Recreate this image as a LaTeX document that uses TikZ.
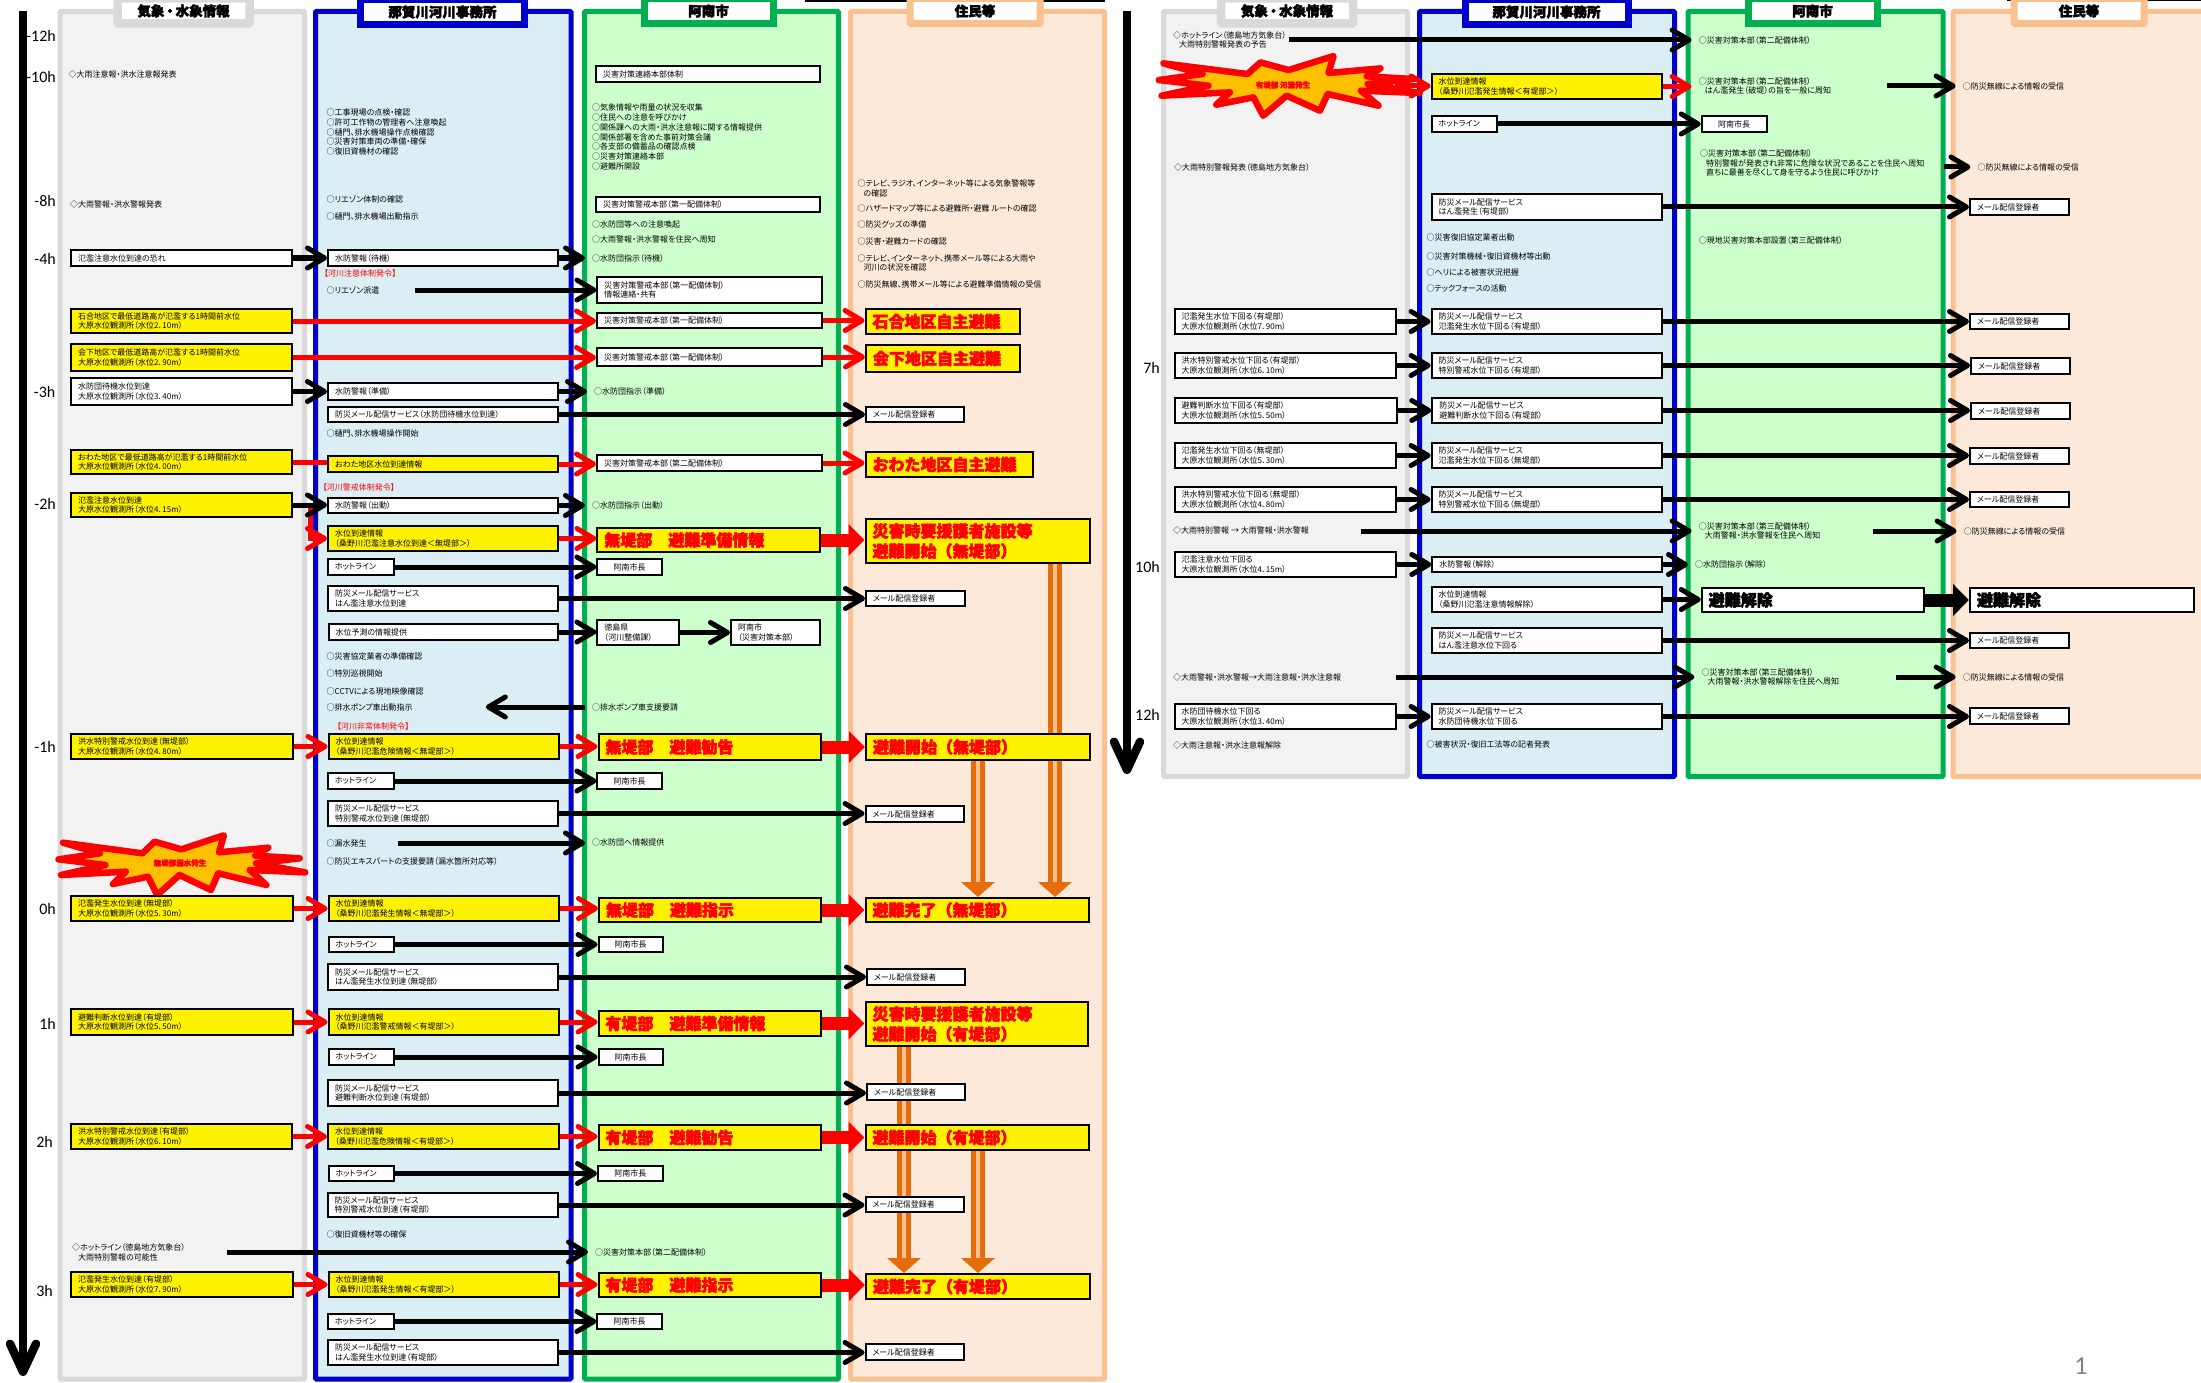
\documentclass[tikz,border=0pt]{standalone}
\usepackage{fontspec}
\setmainfont{Noto Sans CJK JP}[RawFeature=+palt,BoldFeatures={FakeBold=3}]
\newfontfamily\bigfont{Noto Sans CJK JP}[BoldFeatures={FakeBold=3}]
\newfontfamily\timefont{Carlito}
\usetikzlibrary{calc}
\usetikzlibrary{positioning}
\usetikzlibrary{arrows.meta}
\usetikzlibrary{backgrounds}

\definecolor{graybd}{HTML}{D9D9D9}
\definecolor{grayfl}{HTML}{F2F2F2}
\definecolor{bluebd}{HTML}{0000CC}
\definecolor{bluefl}{HTML}{DBEEF4}
\definecolor{greenbd}{HTML}{00B050}
\definecolor{greenfl}{HTML}{CCFFCC}
\definecolor{orangebd}{HTML}{FAC090}
\definecolor{orangefl}{HTML}{FDE9D9}
\definecolor{flowbd}{HTML}{E46C0A}
\definecolor{burstfl}{HTML}{FFC000}

\tikzset{
  small/.style = {font=\fontsize{8}{9.7}\selectfont},
  wbox/.style = {small,draw=black,fill=white,line width=2pt,inner xsep=7pt,inner ysep=0pt,align=left},
  ybox/.style = {wbox,fill=yellow},
  cbox/.style = {wbox,align=center},
  bigbox/.style = {ybox,text=red,font=\bigfont\bfseries\fontsize{16}{20}\selectfont},
  bigwbox/.style = {wbox,font=\bigfont\bfseries\fontsize{16}{20}\selectfont},
  txt/.style = {small,anchor=west,inner xsep=7pt,inner ysep=0pt,align=left},
  redtxt/.style = {txt,text=red},
  timelabel/.style = {anchor=east,inner sep=0pt,font=\timefont\fontsize{16}{18}\selectfont},
  burst/.style = {draw=red,fill=burstfl,line width=6.5pt,line join=round},
  bursttxt/.style = {text=red,inner sep=0pt,font=\bfseries\fontsize{7.5}{9}\selectfont},
  head/.style = {inner sep=0pt,font=\bfseries\fontsize{13.5}{15}\selectfont},
  karrow/.style = {draw=black,line width=5pt,-{Straight Barb[round,length=17pt,width=20pt]}},
  rarrow/.style = {draw=red,line width=5pt,-{Straight Barb[round,length=17pt,width=20pt]}},
  rline/.style = {draw=red,line width=5pt},
  rfat/.style = {draw=red,line width=13pt,-{Triangle[length=16pt,width=31pt]}},
  kfat/.style = {draw=black,line width=13pt,-{Triangle[length=16pt,width=31pt]}},
  flow/.style = {draw=flowbd,double=orangebd,double distance=4pt,line width=5pt,-{Triangle[length=15pt,width=33pt]}},
  timearrow/.style = {draw=black,line width=8.5pt,-{Straight Barb[round,length=28pt,width=26pt]}},
}

% box given by its outer corners
\newcommand{\bnode}[7][wbox]{%
  \pgfmathsetmacro{\bw}{#5-#3-2}\pgfmathsetmacro{\bt}{#5-#3-16}%
  \pgfmathsetmacro{\bh}{#6-#4-2}\pgfmathsetmacro{\bx}{(#3+#5)/2}\pgfmathsetmacro{\by}{(#4+#6)/2}%
  \node[#1,minimum width=\bw pt,minimum height=\bh pt,text width=\bt pt] (#2) at (\bx,\by) {#7};}
% free text, x is where the text starts
\newcommand{\tnode}[5][txt]{%
  \pgfmathsetmacro{\bx}{#3-7}%
  \node[#1] (#2) at (\bx,#4) {#5};}
\newcommand{\ind}{\hspace*{6pt}}
\newcommand{\burstpts}{(170,458) -- (385,490) -- (418,455) -- (490,478) -- (605,436) -- (592,487) -- (725,473) -- (690,497) -- (810,505) -- (692,520) -- (825,547) -- (675,540) -- (720,585) -- (590,550) -- (570,600) -- (485,555) -- (425,615) -- (400,560) -- (305,582) -- (340,545) -- (165,555) -- (285,525) -- (158,508) -- (270,490) -- cycle}

\begin{document}
\begin{tikzpicture}[x=1pt,y=-1pt]
\useasboundingbox (0,0) rectangle (2201,1383);

% columns
\begin{scope}[on background layer]
\fill[white] (0,0) rectangle (2201,1383);
\draw[draw=graybd,fill=grayfl,line width=5pt,rounded corners=1pt] (60,11.5) rectangle (304.5,1379);
\draw[draw=bluebd,fill=bluefl,line width=5pt,rounded corners=1pt] (315.5,11.5) rectangle (571,1379);
\draw[draw=greenbd,fill=greenfl,line width=5pt,rounded corners=1pt] (584.5,11.5) rectangle (838.5,1379);
\draw[draw=orangebd,fill=orangefl,line width=5pt,rounded corners=1pt] (850.5,11.5) rectangle (1104.5,1379);
\draw[draw=graybd,fill=grayfl,line width=5pt,rounded corners=1pt] (1163.5,11.5) rectangle (1407.5,776.5);
\draw[draw=bluebd,fill=bluefl,line width=5pt,rounded corners=1pt] (1419.5,11.5) rectangle (1674.5,776.5);
\draw[draw=greenbd,fill=greenfl,line width=5pt,rounded corners=1pt] (1688,11.5) rectangle (1943,776.5);
\draw[draw=orangebd,fill=orangefl,line width=5pt,rounded corners=1pt] (1953,11.5) rectangle (2215,776.5);
\draw[burst,shift={(0,690)},xscale=0.37,yscale=1/3] \burstpts;
\draw[burst,shift={(1097,-89.3)},xscale=0.391,yscale=1/3] \burstpts;
\end{scope}

% top boxes
\node[draw=black,fill=white,line width=2pt,minimum width=298pt,minimum height=12pt] (top1) at (955,-5) {};
\node[draw=black,fill=white,line width=2pt,minimum width=202pt,minimum height=12pt] (top2) at (2109,-6) {};

% headers
\node[head,draw=graybd,fill=white,line width=8.5pt,minimum width=132pt,minimum height=25pt,rounded corners=1pt] (h1) at (183.5,11) {気象\,・\,水象情報};
\node[head,draw=bluebd,fill=white,line width=7pt,minimum width=164pt,minimum height=25pt] (h2) at (442.5,12) {那賀川河川事務所};
\node[head,draw=greenbd,fill=white,line width=7pt,minimum width=129pt,minimum height=25pt] (h3) at (708.5,11) {阿南市};
\node[head,draw=orangebd,fill=white,line width=7pt,minimum width=130pt,minimum height=25pt,rounded corners=1pt] (h4) at (975,11) {住民等};
\node[head,draw=graybd,fill=white,line width=8.5pt,minimum width=132pt,minimum height=25pt,rounded corners=1pt] (h5) at (1287,11) {気象\,・\,水象情報};
\node[head,draw=bluebd,fill=white,line width=7pt,minimum width=163pt,minimum height=25pt] (h6) at (1546.5,12) {那賀川河川事務所};
\node[head,draw=greenbd,fill=white,line width=7pt,minimum width=129pt,minimum height=25pt] (h7) at (1812.5,11) {阿南市};
\node[head,draw=orangebd,fill=white,line width=7pt,minimum width=130pt,minimum height=25pt,rounded corners=1pt] (h8) at (2079,11) {住民等};

% time axis
\coordinate (ta) at (23,11);
\coordinate (tb) at (23,1376);
\coordinate (tc) at (1127,11);
\coordinate (td) at (1127,774);
\node[timelabel] (t1) at (56,36) {-12h};
\node[timelabel] (t2) at (56,77) {-10h};
\node[timelabel] (t3) at (56,201) {-8h};
\node[timelabel] (t4) at (56,259) {-4h};
\node[timelabel] (t5) at (55.5,392) {-3h};
\node[timelabel] (t6) at (56,504) {-2h};
\node[timelabel] (t7) at (56,747) {-1h};
\node[timelabel] (t8) at (56,909) {0h};
\node[timelabel] (t9) at (56,1024) {1h};
\node[timelabel] (t10) at (53,1142) {2h};
\node[timelabel] (t11) at (53,1291) {3h};
\node[timelabel] (t12) at (1160,368) {7h};
\node[timelabel] (t13) at (1160,567) {10h};
\node[timelabel] (t14) at (1160,715) {12h};

% left sheet, weather column
\tnode{a1}{68.5}{74}{◇大雨注意報・洪水注意報発表}
\tnode{a2}{70}{204}{◇大雨警報・洪水警報発表}
\bnode{a3}{70}{249}{293}{267}{氾濫注意水位到達の恐れ}
\bnode[ybox]{a4}{70}{308}{293}{334}{石合地区で最低道路高が氾濫する1時間前水位\\大原水位観測所（水位2．10m）}
\bnode[ybox]{a5}{70}{343}{293}{372}{会下地区で最低道路高が氾濫する1時間前水位\\大原水位観測所（水位2．90m）}
\bnode{a6}{70}{377}{293}{406}{水防団待機水位到達\\大原水位観測所（水位3．40m）}
\bnode[ybox]{a7}{70}{449}{293}{475}{おわた地区で最低道路高が氾濫する1時間前水位\\大原水位観測所（水位4．00m）}
\bnode[ybox]{a8}{70}{492}{293}{518}{氾濫注意水位到達\\大原水位観測所（水位4．15m）}
\bnode[ybox]{a9}{70}{733}{294}{760}{洪水特別警戒水位到達（無堤部）\\大原水位観測所（水位4．80m）}
\node[bursttxt] (a10) at (180,863) {無堤部漏水発生};
\bnode[ybox]{a11}{70}{895}{294}{922}{氾濫発生水位到達（無堤部）\\大原水位観測所（水位5．30m）}
\bnode[ybox]{a12}{70}{1008}{294}{1036}{避難判断水位到達（有堤部）\\大原水位観測所（水位5．50m）}
\bnode[ybox]{a13}{70}{1123}{293}{1150}{洪水特別警戒水位到達（有堤部）\\大原水位観測所（水位6．10m）}
\tnode{a14}{72}{1252}{◇ホットライン（徳島地方気象台）\\\ind 大雨特別警報の可能性}
\bnode[ybox]{a15}{70}{1271}{294}{1298}{氾濫発生水位到達（有堤部）\\大原水位観測所（水位7．90m）}

% left sheet, river office column
\tnode{b1}{326.5}{132}{○工事現場の点検・確認\\○許可工作物の管理者へ注意喚起\\○樋門、排水機場操作点検確認\\○災害対策車両の準備・確保\\○復旧資機材の確認}
\tnode{b2}{326.5}{199}{○リエゾン体制の確認}
\tnode{b3}{326.5}{216}{○樋門、排水機場出動指示}
\bnode{b4}{327}{249}{559}{267}{水防警報（待機）}
\tnode[redtxt]{b5}{324}{273}{【河川注意体制発令】}
\tnode{b6}{326.5}{290}{○リエゾン派遣}
\bnode{b7}{327}{382}{559}{401}{水防警報（準備）}
\bnode{b8}{327}{406}{559}{423}{防災メール配信サービス（水防団待機水位到達）}
\tnode{b9}{326.5}{433}{○樋門、排水機場操作開始}
\bnode[ybox]{b10}{327}{455}{559}{473}{おわた地区水位到達情報}
\tnode[redtxt]{b11}{322.7}{487}{【河川警戒体制発令】}
\bnode{b12}{327}{497}{559}{514}{水防警報（出動）}
\bnode[ybox]{b13}{327}{525}{559}{552}{水位到達情報\\（桑野川氾濫注意水位到達＜無堤部＞）}
\bnode{b14}{327}{558}{394.5}{576}{ホットライン}
\bnode{b15}{327}{585}{559}{612}{防災メール配信サービス\\はん濫注意水位到達}
\bnode{b16}{327.5}{623}{559}{641}{水位予測の情報提供}
\tnode{b17}{326.5}{656}{○災害協定業者の準備確認}
\tnode{b18}{326.5}{673}{○特別巡視開始}
\tnode{b19}{326.5}{691}{○CCTVによる現地映像確認}
\tnode{b20}{326.5}{707}{○排水ポンプ車出動指示}
\tnode[redtxt]{b21}{337}{726}{【河川非常体制発令】}
\bnode[ybox]{b22}{327.5}{733}{560}{760}{水位到達情報\\（桑野川氾濫危険情報＜無堤部＞）}
\bnode{b23}{327}{772}{394.5}{790}{ホットライン}
\bnode{b24}{327}{800}{559}{827}{防災メール配信サービス\\特別警戒水位到達（無堤部）}
\tnode{b25}{326.5}{843}{○漏水発生}
\tnode{b26}{326.5}{861}{○防災エキスパートの支援要請（漏水箇所対応等）}
\bnode[ybox]{b27}{327.5}{895}{560}{922}{水位到達情報\\（桑野川氾濫発生情報＜無堤部＞）}
\bnode{b28}{327.5}{936}{395}{953}{ホットライン}
\bnode{b29}{327}{963}{559}{991}{防災メール配信サービス\\はん濫発生水位到達（無堤部）}
\bnode[ybox]{b30}{327.5}{1008}{560}{1036}{水位到達情報\\（桑野川氾濫警戒情報＜有堤部＞）}
\bnode{b31}{327.5}{1048}{395}{1066}{ホットライン}
\bnode{b32}{327}{1079}{559}{1107}{防災メール配信サービス\\避難判断水位到達（有堤部）}
\bnode[ybox]{b33}{327}{1123}{559.5}{1150}{水位到達情報\\（桑野川氾濫危険情報＜有堤部＞）}
\bnode{b34}{327.5}{1165}{394.5}{1182}{ホットライン}
\bnode{b35}{326.5}{1192}{558.5}{1218}{防災メール配信サービス\\特別警戒水位到達（有堤部）}
\tnode{b36}{326.5}{1234}{○復旧資機材等の確保}
\bnode[ybox]{b37}{327.5}{1271}{560}{1298}{水位到達情報\\（桑野川氾濫発生情報＜有堤部＞）}
\bnode{b38}{327}{1313}{394.5}{1330}{ホットライン}
\bnode{b39}{327}{1339}{559}{1366}{防災メール配信サービス\\はん濫発生水位到達（有堤部）}

% left sheet, city column
\bnode{c1}{595}{65}{821}{83}{災害対策連絡本部体制}
\tnode{c2}{592}{137}{○気象情報や雨量の状況を収集\\○住民への注意を呼びかけ\\○関係課への大雨・洪水注意報に関する情報提供\\○関係部署を含めた事前対策会議\\○各支部の備蓄品の確認点検\\○災害対策連絡本部\\○避難所開設}
\bnode{c3}{595}{196}{821}{213}{災害対策警戒本部（第一配備体制）}
\tnode{c4}{592}{224}{○水防団等への注意喚起}
\tnode{c5}{592}{239}{○大雨警報・洪水警報を住民へ周知}
\tnode{c6}{592}{258}{○水防団指示（待機）}
\bnode{c7}{596.4}{276}{823}{304}{災害対策警戒本部（第一配備体制）\\情報連絡・共有}
\bnode{c8}{596}{312}{823}{329}{災害対策警戒本部（第一配備体制）}
\bnode{c9}{596}{347}{823}{367}{災害対策警戒本部（第一配備体制）}
\tnode{c10}{594}{391}{○水防団指示（準備）}
\bnode{c11}{596}{454}{823}{472}{災害対策警戒本部（第二配備体制）}
\tnode{c12}{592}{505}{○水防団指示（出動）}
\bnode[bigbox]{c13}{596.4}{527}{820.6}{553}{無堤部　避難準備情報}
\bnode[cbox]{c14}{596.4}{558}{663}{576}{阿南市長}
\bnode{c15}{596.4}{619}{679.6}{646}{徳島県\\（河川整備課）}
\bnode{c16}{730}{619}{820.6}{646}{阿南市\\（災害対策本部）}
\tnode{c17}{592}{707}{○排水ポンプ車支援要請}
\bnode[bigbox]{c18}{597.5}{733}{821.7}{761}{無堤部　避難勧告}
\bnode[cbox]{c19}{596.4}{772}{663}{790}{阿南市長}
\tnode{c20}{592}{842}{○水防団へ情報提供}
\bnode[bigbox]{c21}{598}{897}{822.4}{923}{無堤部　避難指示}
\bnode[cbox]{c22}{597.5}{936}{663.5}{953}{阿南市長}
\bnode[bigbox]{c23}{597.5}{1010}{821.7}{1037}{有堤部　避難準備情報}
\bnode[cbox]{c24}{597.5}{1048}{663.5}{1066}{阿南市長}
\bnode[bigbox]{c25}{597.5}{1124}{822.4}{1151}{有堤部　避難勧告}
\bnode[cbox]{c26}{597}{1165}{663.5}{1182}{阿南市長}
\tnode{c27}{595}{1252}{○災害対策本部（第二配備体制）}
\bnode[bigbox]{c28}{597.5}{1272}{821.7}{1298}{有堤部　避難指示}
\bnode[cbox]{c29}{596.4}{1313}{663}{1330}{阿南市長}

% left sheet, residents column
\tnode{d1}{857.4}{188.5}{○テレビ、ラジオ、インターネット等による気象警報等\\\ind の確認}
\tnode{d2}{857.4}{208}{○ハザードマップ等による避難所・避難 ルートの確認}
\tnode{d3}{857.4}{224}{○防災グッズの準備}
\tnode{d4}{857.4}{241}{○災害・避難カードの確認}
\tnode{d5}{857.4}{263}{○テレビ、インターネット、携帯メール等による大雨や\\\ind 河川の状況を確認}
\tnode{d6}{857.4}{284}{○防災無線、携帯メール等による避難準備情報の受信}
\bnode[bigbox]{d7}{864.5}{308}{1020.5}{335}{石合地区自主避難}
\bnode[bigbox]{d8}{865}{344}{1021}{373}{会下地区自主避難}
\bnode{d9}{865}{406}{964.5}{423}{メール配信登録者}
\bnode[bigbox]{d10}{864.5}{451}{1034}{478}{おわた地区自主避難}
\bnode[bigbox]{d11}{864.5}{518}{1090.5}{564}{災害時要援護者施設等\\避難開始（無堤部）}
\bnode{d12}{865}{590}{965.5}{607}{メール配信登録者}
\bnode[bigbox]{d13}{865}{733}{1090.5}{761}{避難開始（無堤部）}
\bnode{d14}{864.5}{805}{965}{823}{メール配信登録者}
\bnode[bigbox]{d15}{864.5}{897}{1090}{923}{避難完了（無堤部）}
\bnode{d16}{866}{968}{966}{986}{メール配信登録者}
\bnode[bigbox]{d17}{864.5}{1001}{1089}{1047}{災害時要援護者施設等\\避難開始（有堤部）}
\bnode{d18}{866}{1083}{966}{1101}{メール配信登録者}
\bnode[bigbox]{d19}{864.5}{1124}{1090}{1151}{避難開始（有堤部）}
\bnode{d20}{864.5}{1196}{965}{1213}{メール配信登録者}
\bnode[bigbox]{d21}{865}{1273}{1090.5}{1300}{避難完了（有堤部）}
\bnode{d22}{864.5}{1343}{965}{1361}{メール配信登録者}

% right sheet, weather column
\tnode{e1}{1173}{40}{◇ホットライン（徳島地方気象台）\\\ind 大雨特別警報発表の予告}
\node[bursttxt] (e2) at (1283,85) {有堤部\ 氾濫発生};
\tnode{e3}{1174}{167}{◇大雨特別警報発表（徳島地方気象台）}
\bnode{e4}{1173.5}{308}{1397}{335}{氾濫発生水位下回る（有堤部）\\大原水位観測所（水位7．90m）}
\bnode{e5}{1173.5}{352}{1397}{379}{洪水特別警戒水位下回る（有堤部）\\大原水位観測所（水位6．10m）}
\bnode{e6}{1173.5}{397}{1397.5}{424}{避難判断水位下回る（有堤部）\\大原水位観測所（水位5．50m）}
\bnode{e7}{1173.5}{442}{1397}{469}{氾濫発生水位下回る（無堤部）\\大原水位観測所（水位5．30m）}
\bnode{e8}{1173.5}{486}{1397}{513}{洪水特別警戒水位下回る（無堤部）\\大原水位観測所（水位4．80m）}
\tnode{e9}{1173}{530}{◇大雨特別警報 → 大雨警報・洪水警報}
\bnode{e10}{1173.5}{551}{1397}{578}{氾濫注意水位下回る\\大原水位観測所（水位4．15m）}
\tnode{e11}{1173}{677}{◇大雨警報・洪水警報→大雨注意報・洪水注意報}
\bnode{e12}{1173.5}{703}{1397}{730}{水防団待機水位下回る\\大原水位観測所（水位3．40m）}
\tnode{e13}{1173}{745}{◇大雨注意報・洪水注意報解除}

% right sheet, river office column
\bnode[ybox]{f1}{1430.6}{73}{1662.6}{100}{水位到達情報\\（桑野川氾濫発生情報＜有堤部＞）}
\bnode{f2}{1430.6}{115}{1498}{133}{ホットライン}
\bnode{f3}{1430.6}{193}{1662.6}{221}{防災メール配信サービス\\はん濫発生（有堤部）}
\tnode{f4}{1426.3}{237}{○災害復旧協定業者出動}
\tnode{f5}{1426.3}{256}{○災害対策機械・復旧資機材等出動}
\tnode{f6}{1426.3}{272}{○ヘリによる被害状況把握}
\tnode{f7}{1426.3}{288}{○テックフォースの活動}
\bnode{f8}{1430.6}{308}{1662.6}{335}{防災メール配信サービス\\氾濫発生水位下回る（有堤部）}
\bnode{f9}{1430.6}{352}{1662.6}{379}{防災メール配信サービス\\特別警戒水位下回る（有堤部）}
\bnode{f10}{1431.3}{397}{1663}{424}{防災メール配信サービス\\避難判断水位下回る（有堤部）}
\bnode{f11}{1430.6}{442}{1662.6}{469}{防災メール配信サービス\\氾濫発生水位下回る（無堤部）}
\bnode{f12}{1430.6}{486}{1662.6}{513}{防災メール配信サービス\\特別警戒水位下回る（無堤部）}
\bnode{f13}{1431.3}{556}{1663}{573}{水防警報（解除）}
\bnode{f14}{1430.6}{586}{1662.6}{613}{水位到達情報\\（桑野川氾濫注意情報解除）}
\bnode{f15}{1430.6}{627}{1662.6}{654}{防災メール配信サービス\\はん濫注意水位下回る}
\bnode{f16}{1430.6}{703}{1662.6}{730}{防災メール配信サービス\\水防団待機水位下回る}
\tnode{f17}{1426.3}{744}{○被害状況・復旧工法等の記者発表}

% right sheet, city column
\tnode{g1}{1698.6}{40}{○災害対策本部（第二配備体制）}
\tnode{g2}{1698.6}{86}{○災害対策本部（第二配備体制）\\\ind はん濫発生（破堤）の旨を一般に周知}
\bnode[cbox]{g3}{1700.7}{115}{1767.6}{133}{阿南市長}
\tnode{g4}{1700}{163}{○災害対策本部（第二配備体制）\\\ind 特別警報が発表され非常に危険な状況であることを住民へ周知\\\ind 直ちに最善を尽くして身を守るよう住民に呼びかけ}
\tnode{g5}{1698.6}{240}{○現地災害対策本部設置（第三配備体制）}
\tnode{g6}{1698.6}{531}{○災害対策本部（第三配備体制）\\\ind 大雨警報・洪水警報を住民へ周知}
\tnode{g7}{1695}{564}{○水防団指示（解除）}
\bnode[bigwbox]{g8}{1700.7}{587}{1924.6}{613}{避難解除}
\tnode{g9}{1701.4}{677}{○災害対策本部（第三配備体制）\\\ind 大雨警報・洪水警報解除を住民へ周知}

% right sheet, residents column
\tnode{h9}{1962.6}{86}{○防災無線による情報の受信}
\tnode{h10}{1977.4}{167}{○防災無線による情報の受信}
\bnode{h11}{1969}{198}{2069.5}{216}{メール配信登録者}
\bnode{h12}{1969}{313}{2069.5}{330}{メール配信登録者}
\bnode{h13}{1970}{357}{2070.5}{375}{メール配信登録者}
\bnode{h14}{1970}{402}{2070.5}{420}{メール配信登録者}
\bnode{h15}{1969}{447}{2069.5}{465}{メール配信登録者}
\bnode{h16}{1969}{491}{2069.5}{508}{メール配信登録者}
\tnode{h17}{1963.6}{531}{○防災無線による情報の受信}
\bnode[bigwbox]{h18}{1969}{587}{2195.4}{613}{避難解除}
\bnode{h19}{1969}{632}{2069.5}{649}{メール配信登録者}
\tnode{h20}{1962.6}{677}{○防災無線による情報の受信}
\bnode{h21}{1969}{707}{2069.5}{725}{メール配信登録者}

\node[inner sep=0pt,text=gray,font=\timefont\fontsize{26}{28}\selectfont] (pg) at (2081,1366) {1};

% connectors go under the boxes
\begin{scope}[on background layer]
\coordinate (colA) at (1055,0);
\coordinate (colB) at (978,0);
\coordinate (colC) at (904,0);
\coordinate (e2r) at (1395,86);
\draw[flow] (d11.south -| colA) -- (d15.north -| colA);
\draw[flow] (d13.south -| colB) -- (d15.north -| colB);
\draw[flow] (d17.south -| colC) -- (d21.north -| colC);
\draw[flow] (d19.south -| colB) -- (d21.north -| colB);
\draw[timearrow] (ta) -- (tb);
\draw[timearrow] (tc) -- (td);

% left sheet
\draw[karrow] (a3.east) -- (a3.east -| b4.west);
\draw[karrow] (b4.east) -- (b4.east -| c6.west);
\draw[karrow] ([xshift=28pt]b6.east) -- (b6.east -| c7.west);
\draw[rarrow] (a4.east) -- (a4.east -| c8.west);
\draw[rarrow] (c8.east) -- (c8.east -| d7.west);
\draw[rarrow] (a5.east) -- (a5.east -| c9.west);
\draw[rarrow] (c9.east) -- (c9.east -| d8.west);
\draw[karrow] (a6.east) -- (a6.east -| b7.west);
\draw[karrow] (b7.east) -- (b7.east -| c10.west);
\draw[karrow] (b8.east) -- (b8.east -| d9.west);
\draw[rline] (a7.east) -- (a7.east -| b10.west);
\draw[rarrow] (b10.east) -- (b10.east -| c11.west);
\draw[rarrow] (c11.east) -- (c11.east -| d10.west);
\draw[rarrow] (a8.east) -- ([xshift=17pt]a8.east) |- (b13.west);
\draw[karrow] (a8.east) -- (a8.east -| b12.west);
\draw[karrow] (b12.east) -- (b12.east -| c12.west);
\draw[rarrow] (b13.east) -- (b13.east -| c13.west);
\draw[rfat] (c13.east) -- (c13.east -| d11.west);
\draw[karrow] (b14.east) -- (b14.east -| c14.west);
\draw[karrow] (b15.east) -- (b15.east -| d12.west);
\draw[karrow] (b16.east) -- (b16.east -| c15.west);
\draw[karrow] (c15.east) -- (c15.east -| c16.west);
\draw[karrow] (c17.west) -- ([xshift=66pt]b20.east |- c17.west);
\draw[rarrow] (a9.east) -- (a9.east -| b22.west);
\draw[rarrow] (b22.east) -- (b22.east -| c18.west);
\draw[rfat] (c18.east) -- (c18.east -| d13.west);
\draw[karrow] (b23.east) -- (b23.east -| c19.west);
\draw[karrow] (b24.east) -- (b24.east -| d14.west);
\draw[karrow] ([xshift=24pt]b25.east) -- (b25.east -| c20.west);
\draw[rarrow] (a11.east) -- (a11.east -| b27.west);
\draw[rarrow] (b27.east) -- (b27.east -| c21.west);
\draw[rfat] (c21.east) -- (c21.east -| d15.west);
\draw[karrow] (b28.east) -- (b28.east -| c22.west);
\draw[karrow] (b29.east) -- (b29.east -| d16.west);
\draw[rarrow] (a12.east) -- (a12.east -| b30.west);
\draw[rarrow] (b30.east) -- (b30.east -| c23.west);
\draw[rfat] (c23.east) -- (c23.east -| d17.west);
\draw[karrow] (b31.east) -- (b31.east -| c24.west);
\draw[karrow] (b32.east) -- (b32.east -| d18.west);
\draw[rarrow] (a13.east) -- (a13.east -| b33.west);
\draw[rarrow] (b33.east) -- (b33.east -| c25.west);
\draw[rfat] (c25.east) -- (c25.east -| d19.west);
\draw[karrow] (b34.east) -- (b34.east -| c26.west);
\draw[karrow] (b35.east) -- (b35.east -| d20.west);
\draw[karrow] ([xshift=34pt]a14.east |- c27.west) -- (c27.west);
\draw[rarrow] (a15.east) -- (a15.east -| b37.west);
\draw[rarrow] (b37.east) -- (b37.east -| c28.west);
\draw[rfat] (c28.east) -- (c28.east -| d21.west);
\draw[karrow] (b38.east) -- (b38.east -| c29.west);
\draw[karrow] (b39.east) -- (b39.east -| d22.west);

% right sheet
\draw[karrow] ([xshift=-5pt]e1.east |- g1.west) -- (g1.west);
\draw[rarrow] (e2r) -- (e2r -| f1.west);
\draw[rarrow] (f1.east) -- (f1.east -| g2.west);
\draw[karrow] ([xshift=-69pt]h9.west) -- (h9.west);
\draw[karrow] (f2.east) -- (f2.east -| g3.west);
\draw[karrow] ([xshift=-26pt]h10.west) -- (h10.west);
\draw[karrow] (f3.east) -- (f3.east -| h11.west);
\draw[karrow] (e4.east) -- (e4.east -| f8.west);
\draw[karrow] (f8.east) -- (f8.east -| h12.west);
\draw[karrow] (e5.east) -- (e5.east -| f9.west);
\draw[karrow] (f9.east) -- (f9.east -| h13.west);
\draw[karrow] (e6.east) -- (e6.east -| f10.west);
\draw[karrow] (f10.east) -- (f10.east -| h14.west);
\draw[karrow] (e7.east) -- (e7.east -| f11.west);
\draw[karrow] (f11.east) -- (f11.east -| h15.west);
\draw[karrow] (e8.east) -- (e8.east -| f12.west);
\draw[karrow] (f12.east) -- (f12.east -| h16.west);
\draw[karrow] ([xshift=45pt]e9.east |- g6.west) -- (g6.west);
\draw[karrow] ([xshift=-84pt]h17.west) -- (h17.west);
\draw[karrow] (e10.east) -- (e10.east -| f13.west);
\draw[karrow] (f13.east) -- (f13.east -| g7.west);
\draw[karrow] (f14.east) -- (f14.east -| g8.west);
\draw[kfat] (g8.east) -- (g8.east -| h18.west);
\draw[karrow] (f15.east) -- (f15.east -| h19.west);
\draw[karrow] ([xshift=48pt]e11.east |- g9.west) -- (g9.west);
\draw[karrow] ([xshift=-60pt]h20.west) -- (h20.west);
\draw[karrow] (e12.east) -- (e12.east -| f16.west);
\draw[karrow] (f16.east) -- (f16.east -| h21.west);
\end{scope}
\end{tikzpicture}
\end{document}
